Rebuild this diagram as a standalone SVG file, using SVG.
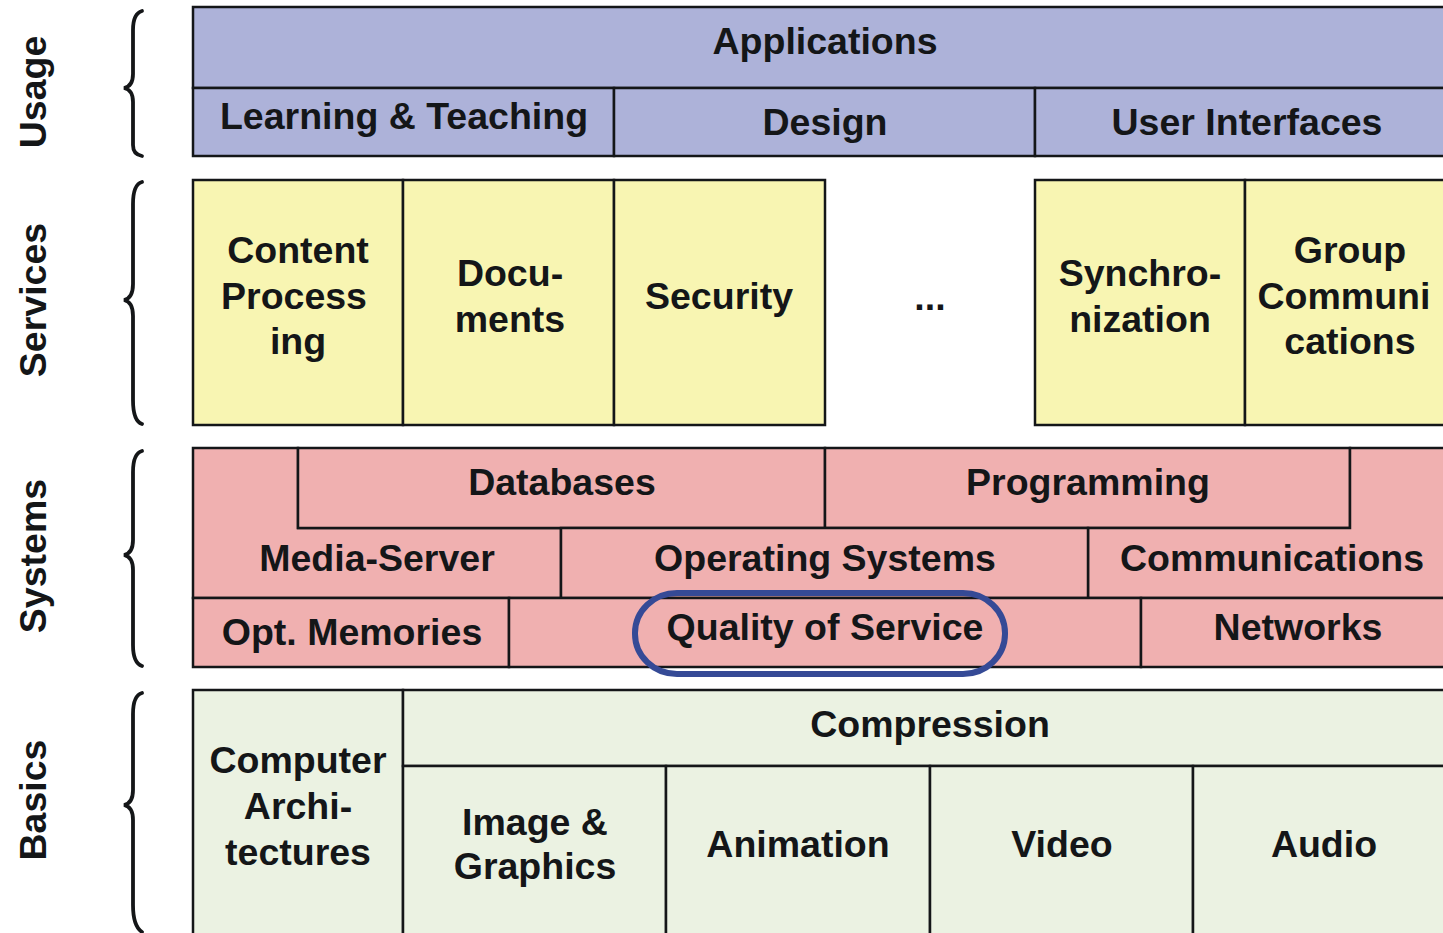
<svg xmlns="http://www.w3.org/2000/svg" width="1443" height="933" viewBox="0 0 1443 933">
<style>
.t{font-family:"Liberation Sans",Arial,sans-serif;font-weight:bold;font-size:37.5px;fill:#141618;text-anchor:middle}
.b{stroke:#141618;stroke-width:2.5}
.u{fill:#adb2d9}
.s{fill:#f8f5b2}
.y{fill:#f0b0b0}
.g{fill:#ebf2e2}
.br{fill:none;stroke:#141618;stroke-width:3.8;stroke-linecap:round}
</style>
<rect width="1443" height="933" fill="#fff"/>
<g id="labels">
<text class="t" transform="translate(46,92) rotate(-90)">Usage</text>
<text class="t" transform="translate(46,300) rotate(-90)">Services</text>
<text class="t" transform="translate(46,556) rotate(-90)">Systems</text>
<text class="t" transform="translate(46,800) rotate(-90)">Basics</text>
</g>
<g id="braces">
<path class="br" d="M142,11 C135,13 133,20 133,30 L133,74 C133,83 129,87 124,88 C129,89 133,93 133,102 L133,145 C133,152 136,155 142,156"/>
<path class="br" d="M142,182 C135,184 133,192 133,204 L133,284 C133,295 129,299 124,300 C129,301 133,305 133,316 L133,400 C133,415 136,422 142,424"/>
<path class="br" d="M142,451 C135,453 133,461 133,472 L133,540 C133,550 129,554 124,555 C129,556 133,560 133,570 L133,645 C133,658 136,664 142,666"/>
<path class="br" d="M142,693 C135,695 133,703 133,714 L133,790 C133,800 129,804 124,805 C129,806 133,810 133,820 L133,905 C133,920 136,928 142,932"/>
</g>
<g id="usage">
<g id="applications"><rect class="u b" x="193" y="7" width="1257" height="81"/><text class="t" x="825" y="54">Applications</text></g>
<g id="learning"><rect class="u b" x="193" y="88" width="421" height="68"/><text class="t" x="404" y="129">Learning &amp; Teaching</text></g>
<g id="design"><rect class="u b" x="614" y="88" width="421" height="68"/><text class="t" x="825" y="135">Design</text></g>
<g id="ui"><rect class="u b" x="1035" y="88" width="415" height="68"/><text class="t" x="1247" y="135">User Interfaces</text></g>
</g>
<g id="services">
<g id="content"><rect class="s b" x="193" y="180" width="210" height="245"/><text class="t" x="298" y="263">Content</text><text class="t" x="294" y="309">Process</text><text class="t" x="298" y="354">ing</text></g>
<g id="documents"><rect class="s b" x="403" y="180" width="211" height="245"/><text class="t" x="510" y="286">Docu-</text><text class="t" x="510" y="332">ments</text></g>
<g id="security"><rect class="s b" x="614" y="180" width="211" height="245"/><text class="t" x="719" y="309">Security</text></g>
<g id="dots"><text class="t" x="930" y="310">...</text></g>
<g id="sync"><rect class="s b" x="1035" y="180" width="210" height="245"/><text class="t" x="1140" y="286">Synchro-</text><text class="t" x="1140" y="332">nization</text></g>
<g id="group"><rect class="s b" x="1245" y="180" width="205" height="245"/><text class="t" x="1350" y="263">Group</text><text class="t" x="1344" y="309">Communi</text><text class="t" x="1350" y="354">cations</text></g>
</g>
<g id="systems">
<g id="mediaserver"><polygon class="y b" points="193,448 298,448 298,528 561,528 561,598 193,598"/><text class="t" x="377" y="571">Media-Server</text></g>
<g id="databases"><rect class="y b" x="298" y="448" width="527" height="80"/><text class="t" x="562" y="495">Databases</text></g>
<g id="programming"><rect class="y b" x="825" y="448" width="525" height="80"/><text class="t" x="1088" y="495">Programming</text></g>
<g id="communications"><polygon class="y b" points="1350,448 1450,448 1450,598 1088,598 1088,528 1350,528"/><text class="t" x="1272" y="571">Communications</text></g>
<g id="os"><rect class="y b" x="561" y="528" width="527" height="70"/><text class="t" x="825" y="571">Operating Systems</text></g>
<g id="optmem"><rect class="y b" x="193" y="598" width="316" height="69"/><text class="t" x="352" y="645">Opt. Memories</text></g>
<g id="qos"><rect class="y b" x="509" y="598" width="632" height="69"/><text class="t" x="825" y="640">Quality of Service</text><rect x="635" y="593" width="370" height="81" rx="42" ry="40" fill="none" stroke="#354a96" stroke-width="6"/></g>
<g id="networks"><rect class="y b" x="1141" y="598" width="309" height="69"/><text class="t" x="1298" y="640">Networks</text></g>
</g>
<g id="basics">
<g id="comparch"><rect class="g b" x="193" y="690" width="210" height="260"/><text class="t" x="298" y="773">Computer</text><text class="t" x="298" y="819">Archi-</text><text class="t" x="298" y="865">tectures</text></g>
<g id="compression"><rect class="g b" x="403" y="690" width="1047" height="76"/><text class="t" x="930" y="737">Compression</text></g>
<g id="image"><rect class="g b" x="403" y="766" width="263" height="184"/><text class="t" x="535" y="835">Image &amp;</text><text class="t" x="535" y="879">Graphics</text></g>
<g id="animation"><rect class="g b" x="666" y="766" width="264" height="184"/><text class="t" x="798" y="857">Animation</text></g>
<g id="video"><rect class="g b" x="930" y="766" width="263" height="184"/><text class="t" x="1062" y="857">Video</text></g>
<g id="audio"><rect class="g b" x="1193" y="766" width="257" height="184"/><text class="t" x="1324" y="857">Audio</text></g>
</g>
<g id="connectors"></g>
</svg>
